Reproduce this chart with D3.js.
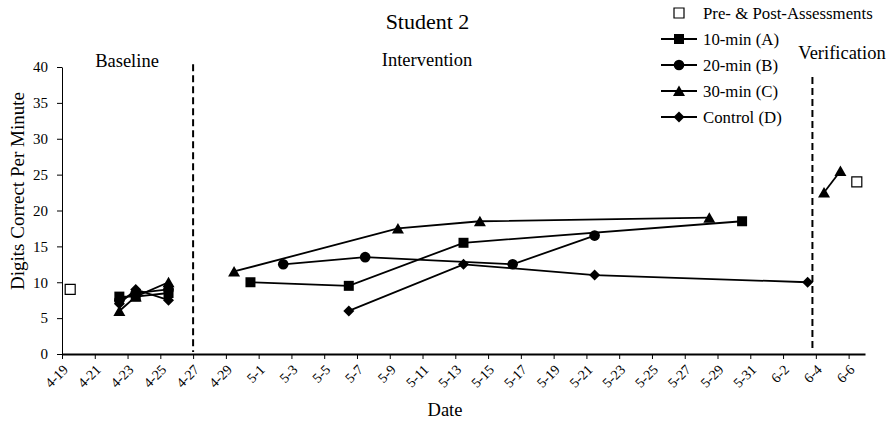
<!DOCTYPE html>
<html>
<head>
<meta charset="utf-8">
<script src="https://cdn.jsdelivr.net/npm/d3@7"></script>
<style>
  html, body { margin: 0; padding: 0; background: #fff; }
  svg { display: block; font-family: "Liberation Serif", "Times New Roman", serif; }
</style>
</head>
<body>
<svg id="chart" width="895" height="426"></svg>
<script>
// ---------- DATA ----------
const tickLabels = ["4-19","4-21","4-23","4-25","4-27","4-29","5-1","5-3","5-5","5-7","5-9","5-11","5-13","5-15","5-17","5-19","5-21","5-23","5-25","5-27","5-29","5-31","6-2","6-4","6-6"];
const yTicks = [0, 5, 10, 15, 20, 25, 30, 35, 40];
const axisStart = "4-19";
const axisEnd = "6-7";

// Assessments (open squares)
const assessDates = ["4-19", "6-6"];
const assessValues = [9, 24];

// Baseline phase
const baseDates = ["4-22", "4-23", "4-25"];
const baseA = [8, 8, 8.5];
const baseB = [7.5, 8.5, 9];
const baseC = [6, 8, 10];
const baseD = [7, 9, 7.5];

// Intervention phase
const intA_dates = ["4-30", "5-6", "5-13", "5-30"];
const intA = [10, 9.5, 15.5, 18.5];
const intB_dates = ["5-2", "5-7", "5-16", "5-21"];
const intB = [12.5, 13.5, 12.5, 16.5];
const intC_dates = ["4-29", "5-9", "5-14", "5-28"];
const intC = [11.5, 17.5, 18.5, 19];
const intD_dates = ["5-6", "5-13", "5-21", "6-3"];
const intD = [6, 12.5, 11, 10];

// Verification phase
const verC_dates = ["6-4", "6-5"];
const verC = [22.5, 25.5];

// Phase change lines (date position in days from axis start, top value)
const phaseLineDays = [8, 45.82];
const phaseLineTop = [40.4, 38.6];
const phaseLabels = ["Baseline", "Intervention", "Verification"];

const legendLabels = ["Pre- & Post-Assessments", "10-min (A)", "20-min (B)", "30-min (C)", "Control (D)"];
const legendSymbols = ["open", "square", "circle", "triangle", "diamond"];

const title = "Student 2";
const xTitle = "Date";
const yTitle = "Digits Correct Per Minute";

// ---------- SETUP ----------
const svg = d3.select("#chart");
const parse = s => { const [m, d] = s.split("-").map(Number); return new Date(Date.UTC(2019, m - 1, d)); };

const x = d3.scaleUtc().domain([parse(axisStart), parse(axisEnd)]).range([62, 865]);
const y = d3.scaleLinear().domain([0, 40]).range([354, 67]);
const xPt = s => x(d3.utcHour.offset(parse(s), 12)); // points centered between ticks
const font = '"Liberation Serif", "Times New Roman", serif';

// ---------- AXES ----------
const gy = svg.append("g").attr("transform", "translate(62,0)")
  .call(d3.axisLeft(y).tickValues(yTicks).tickSize(5).tickSizeOuter(0).tickPadding(9));
gy.select(".domain").attr("stroke", "#000").attr("stroke-width", 1);
gy.selectAll(".tick line").attr("stroke", "#000").attr("stroke-width", 1);
gy.selectAll(".tick text").attr("font-size", 15).attr("font-family", font).attr("fill", "#000");

const gx = svg.append("g").attr("transform", "translate(0,354)")
  .call(d3.axisBottom(x).tickValues(tickLabels.map(parse)).tickFormat(d3.utcFormat("%-m-%-d")).tickSize(5).tickSizeOuter(0));
gx.select(".domain").attr("stroke", "#000").attr("stroke-width", 2.2);
gx.selectAll(".tick line").attr("stroke", "#000").attr("stroke-width", 1);
gx.selectAll(".tick text")
  .attr("font-size", 14).attr("font-family", font).attr("fill", "#000")
  .attr("text-anchor", "end")
  .attr("x", 0).attr("y", 0).attr("dy", "0.35em")
  .attr("transform", "translate(3,13) rotate(-45)");

// ---------- PHASE LINES ----------
const dayPx = d => x(d3.utcHour.offset(parse(axisStart), d * 24));
phaseLineDays.forEach((d, i) => {
  svg.append("line")
    .attr("x1", dayPx(d)).attr("x2", dayPx(d))
    .attr("y1", y(phaseLineTop[i])).attr("y2", y(0) - 2)
    .attr("stroke", "#000").attr("stroke-width", 2)
    .attr("stroke-dasharray", "7,4");
});

// ---------- SYMBOLS ----------
function symPath(type) {
  switch (type) {
    case "square": return "M-5,-5H5V5H-5Z";
    case "circle": return "M-5.3,0A5.3,5.3 0 1,0 5.3,0A5.3,5.3 0 1,0 -5.3,0Z";
    case "triangle": return "M0,-5.5L6,5L-6,5Z";
    case "diamond": return "M0,-5.5L5.5,0L0,5.5L-5.5,0Z";
    case "open": return "M-5,-5H5V5H-5Z";
  }
}
function drawSeries(dates, values, type) {
  const pts = dates.map((d, i) => [xPt(d), y(values[i])]);
  if (type !== "open") {
    svg.append("path")
      .attr("d", d3.line()(pts))
      .attr("fill", "none").attr("stroke", "#000").attr("stroke-width", 1.8);
  }
  svg.append("g").selectAll("path").data(pts).join("path")
    .attr("transform", p => `translate(${p[0]},${p[1]})`)
    .attr("d", symPath(type))
    .attr("fill", type === "open" ? "#fff" : "#000")
    .attr("stroke", "#000").attr("stroke-width", type === "open" ? 1.2 : 0);
}

// Baseline
drawSeries(baseDates, baseA, "square");
drawSeries(baseDates, baseB, "circle");
drawSeries(baseDates, baseC, "triangle");
drawSeries(baseDates, baseD, "diamond");
// Intervention
drawSeries(intA_dates, intA, "square");
drawSeries(intB_dates, intB, "circle");
drawSeries(intC_dates, intC, "triangle");
drawSeries(intD_dates, intD, "diamond");
// Verification
drawSeries(verC_dates, verC, "triangle");
// Assessments
drawSeries(assessDates, assessValues, "open");

// ---------- TEXT ----------
svg.append("text").attr("x", 427.5).attr("y", 29).attr("text-anchor", "middle")
  .attr("font-size", 22).attr("font-family", font).text(title);
const phaseLabelX = [127, 427, 842];
const phaseLabelY = [67, 66, 59];
phaseLabels.forEach((t, i) => {
  svg.append("text").attr("x", phaseLabelX[i]).attr("y", phaseLabelY[i]).attr("text-anchor", "middle")
    .attr("font-size", 18.5).attr("font-family", font).text(t);
});
svg.append("text").attr("x", 445).attr("y", 416).attr("text-anchor", "middle")
  .attr("font-size", 18.5).attr("font-family", font).text(xTitle);
svg.append("text").attr("transform", "translate(24,191) rotate(-90)").attr("text-anchor", "middle")
  .attr("font-size", 19).attr("font-family", font).text(yTitle);

// ---------- LEGEND ----------
const lg = svg.append("g");
legendLabels.forEach((t, i) => {
  const cy = 13 + i * 26;
  if (legendSymbols[i] !== "open") {
    lg.append("line").attr("x1", 661).attr("x2", 697).attr("y1", cy).attr("y2", cy)
      .attr("stroke", "#000").attr("stroke-width", 1.8);
  }
  lg.append("path").attr("transform", `translate(679,${cy})`).attr("d", symPath(legendSymbols[i]))
    .attr("fill", legendSymbols[i] === "open" ? "#fff" : "#000")
    .attr("stroke", "#000").attr("stroke-width", legendSymbols[i] === "open" ? 1.2 : 0);
  lg.append("text").attr("x", 703).attr("y", cy).attr("dy", "0.35em")
    .attr("font-size", 16.8).attr("font-family", font).text(t);
});
</script>
</body>
</html>
